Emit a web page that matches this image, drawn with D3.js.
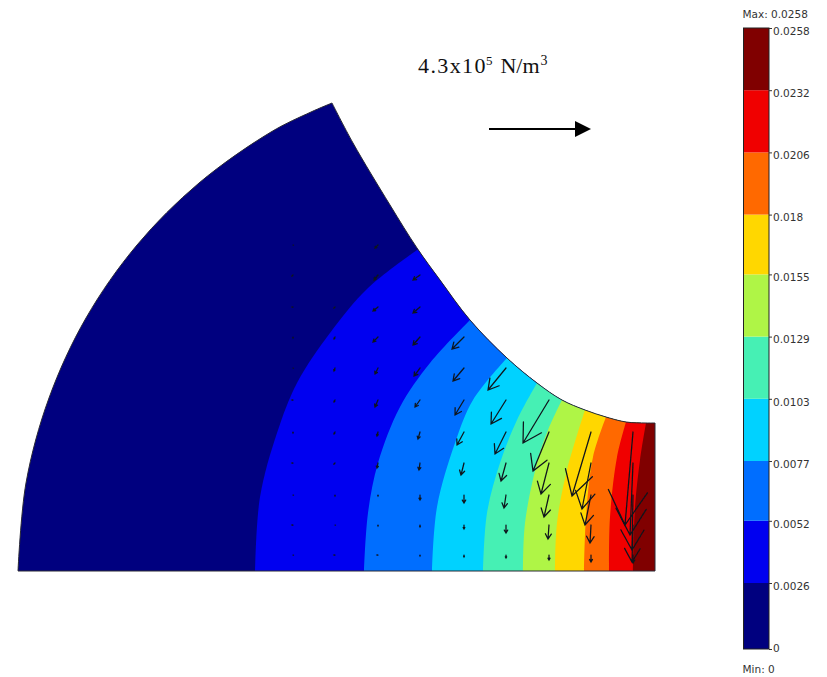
<!DOCTYPE html>
<html>
<head>
<meta charset="utf-8">
<script src="https://cdn.jsdelivr.net/npm/d3@7"></script>
<style>
html,body{margin:0;padding:0;background:#fff}
svg{display:block}
</style>
</head>
<body>
<div id="chart"></div>
<script>
// ---- Data (model units, origin at the lower left corner of the section) ----
const outerEdge = [[0,0],[8,88],[31,173],[68,253],[119,326],[181,388],[253,439],[293,459],[314,468]];
const innerEdge = [[314,468],[335,428],[372,366],[399,323],[422,291],[452,251],[489,213],[519,188],[544,171],[567,161],[588,154],[608,149],[628,148],[637,148]];
const baseCorner = [637,0];

const levels = [0,0.0026,0.0052,0.0077,0.0103,0.0129,0.0155,0.018,0.0206,0.0232,0.0258];
const levelLabels = ["0","0.0026","0.0052","0.0077","0.0103","0.0129","0.0155","0.018","0.0206","0.0232","0.0258"];
const bandColors = ["#00007f","#0000f0","#006eff","#00d2ff","#46f0b4","#aff546","#ffd700","#ff6900","#f00000","#800000"];

const contour0026 = [[237,0],[242,74],[259,138],[279,188],[312,238],[350,283],[399,321]];
const contour0052 = [[346,0],[350,58],[360,108],[382,164],[412,208],[452,251]];
const contour0077 = [[414,0],[419,64],[437,128],[455,171],[489,213]];
const contour0103 = [[465,0],[469,58],[482,108],[499,151],[519,188]];
const contour0129 = [[505,0],[507,48],[519,108],[530,141],[544,171]];
const contour0155 = [[537,0],[539,48],[549,101],[567,161]];
const contour0180 = [[566,0],[568,54],[575,114],[588,154]];
const contour0206 = [[591,0],[592,54],[599,114],[608,149]];
const contour0232 = [[615,0],[617,64],[622,111],[628,148]];
const contours = [contour0026,contour0052,contour0077,contour0103,contour0129,contour0155,contour0180,contour0206,contour0232];

// Force field: sampling grid and vector components per column, bottom row first (reference arrow = 100 long)
const gridRows = [16,46,76,108,139,171,203,234,264,296,326];
const colM1 = {x:275, u:[0,-1,0,-1,0,-1,0,0,-1,-1,0], v:[0,0,0,0,1,0,0,1,0,1,0]};
const col0  = {x:317, u:[-1,0,0,-1,-1,-1,-1,-1,-1], v:[0,0,1,1,2,2,3,2,1]};
const col1  = {x:360, u:[-1,0,0,-1,-1,-3,-3,-5,-5,-4,-3], v:[0,1,1,5,4,7,6,5,4,5,3]};
const col2  = {x:402, u:[0,0,0,-1,-2,-5,-6,-7,-7,-7], v:[1,2,5,7,7,7,8,8,6,5]};
const col3  = {x:446, u:[0,0,0,-3,-7,-9,-11,-12], v:[2,4,8,12,13,15,13,12]};
const col4  = {x:488, u:[0,0,-2,-5,-11,-15,-18], v:[3,8,13,18,22,24,22]};
const col5  = {x:531, u:[0,-1,-5,-8,-16,-26], v:[5,14,22,31,39,43]};
const col6  = {x:573, u:[0,-1,-6,-9,-19], v:[7,18,30,46,64]};
const col7  = {x:615, u:[0,-1,-1,-3,-8], v:[8,37,55,72,93]};
const columns = [colM1,col0,col1,col2,col3,col4,col5,col6,col7];

const refForce = [100,0];
const titleParts = ["4.3x10","5"," N/m","3"];
const maxLabel = "Max: 0.0258";
const minLabel = "Min: 0";

// ---- Scales ----
const W = 827, H = 677;
const x = d3.scaleLinear().domain([0,637]).range([18,655]);
const y = d3.scaleLinear().domain([0,468]).range([571,103]);
const legendY = d3.scaleLinear().domain([0,0.0026,0.0258]).range([649,583,28]);

const svg = d3.select("#chart").append("svg").attr("width",W).attr("height",H).attr("viewBox",[0,0,W,H]);
const line = d3.line().x(d=>x(d[0])).y(d=>y(d[1])).curve(d3.curveCatmullRom.alpha(0.5));

// Section outline
const outerPath = line(outerEdge);
const innerPath = line(innerEdge).replace(/^M/,"L");
const shape = outerPath + innerPath + `L${x(baseCorner[0])},${y(baseCorner[1])}Z`;

svg.append("defs").append("clipPath").attr("id","section").append("path").attr("d",shape);
svg.select("defs").append("filter").attr("id","soft").append("feGaussianBlur").attr("stdDeviation",0.35);

const bands = svg.append("g").attr("clip-path","url(#section)");
bands.append("rect").attr("x",x(0)).attr("y",y(468)).attr("width",x(637)-x(0)).attr("height",y(0)-y(468)).attr("fill",bandColors[0]);
contours.forEach((c,i)=>{
  const top = c[c.length-1];
  const d = line(c) + `L${x(700)},${y(top[1])}L${x(700)},${y(-5)}L${x(c[0][0])},${y(-5)}Z`;
  bands.append("path").attr("d",d).attr("fill",bandColors[i+1]);
});

svg.append("path").attr("d",shape).attr("fill","none").attr("stroke","#2a2a35").attr("stroke-width",1);

// Vector arrows
const arrows = [];
columns.forEach(c=>c.u.forEach((u,i)=>arrows.push({x:c.x,y:gridRows[i],u,v:c.v[i]})));
const arrowG = svg.append("g").attr("fill","none").attr("stroke","#10141c").attr("stroke-width",1.25)
  .attr("stroke-linecap","round").attr("filter","url(#soft)");
arrowG.selectAll("path").data(arrows).join("path").attr("d",a=>{
  const x0=x(a.x), y0=y(a.y), dx=a.u, dy=a.v;
  const L=Math.hypot(dx,dy);
  if(L===0) return `M${x0},${y0}h0.5`;
  const x1=x0+dx, y1=y0+dy;
  const ang=Math.atan2(-dy,-dx), b=0.42*L, t=30*Math.PI/180;
  const bx=s=>x1+b*Math.cos(ang+s*t), by=s=>y1+b*Math.sin(ang+s*t);
  return `M${x0},${y0}L${x1},${y1}M${bx(1)},${by(1)}L${x1},${y1}L${bx(-1)},${by(-1)}`;
});

// Reference arrow and title
const title = svg.append("text").attr("x",418).attr("y",73).attr("font-family","'Liberation Serif',serif").attr("font-size",22).attr("fill","#111");
title.append("tspan").attr("letter-spacing",1.4).text(titleParts[0]);
title.append("tspan").attr("font-size",13).attr("dy",-8).attr("dx",-1).text(titleParts[1]);
title.append("tspan").attr("dy",8).attr("dx",2.5).text(titleParts[2]);
title.append("tspan").attr("font-size",14).attr("dy",-8).attr("dx",1).text(titleParts[3]);

const refX = d3.scaleLinear().domain([0,100]).range([489,591]);
const refY = 129;
svg.append("line").attr("x1",refX(0)).attr("x2",refX(refForce[0])-14).attr("y1",refY).attr("y2",refY).attr("stroke","#000").attr("stroke-width",2.2);
svg.append("path").attr("d",d3.line()([[refX(refForce[0]),refY],[refX(refForce[0])-16,refY-8],[refX(refForce[0])-16,refY+8]])+"Z").attr("fill","#000");

// Colour legend
const barX = 743.5, barW = 25.5;
const legend = svg.append("g");
legend.selectAll("rect").data(bandColors).join("rect")
  .attr("x",barX).attr("width",barW)
  .attr("y",(d,i)=>legendY(levels[i+1]))
  .attr("height",(d,i)=>legendY(levels[i])-legendY(levels[i+1]))
  .attr("fill",d=>d);
legend.append("rect").attr("x",barX).attr("y",legendY(0.0258)).attr("width",barW).attr("height",legendY(0)-legendY(0.0258))
  .attr("fill","none").attr("stroke","#222").attr("stroke-width",1);

const legendAxis = d3.axisRight(legendY).tickValues(levels).tickSize(3).tickPadding(1)
  .tickFormat((d,i)=>levelLabels[i]);
const ag = svg.append("g").attr("transform",`translate(${barX+barW},0)`).call(legendAxis);
ag.select(".domain").remove();
ag.selectAll("line").attr("stroke","#333");
ag.selectAll("text").attr("font-family","'DejaVu Sans',sans-serif").attr("font-size",10.5).attr("fill","#333")
  .attr("dy",(d,i)=>d===0?"0.25em":"0.6em");

const smallText = (t,yy)=>svg.append("text").attr("x",742.5).attr("y",yy).attr("font-family","'DejaVu Sans',sans-serif")
  .attr("font-size",10.5).attr("fill","#333").text(t);
smallText(maxLabel,18);
smallText(minLabel,673);
</script>
</body>
</html>
